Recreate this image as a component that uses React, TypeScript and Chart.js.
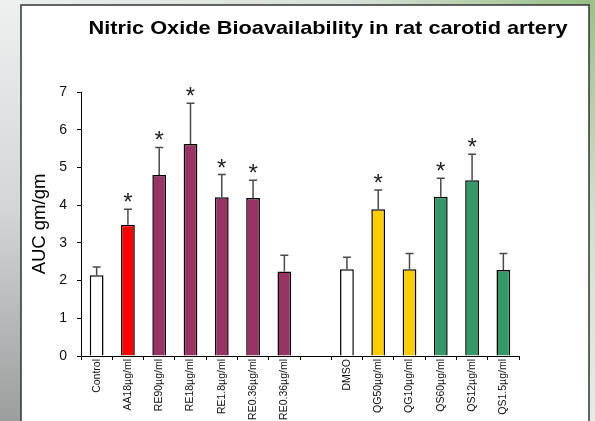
import React, { useEffect, useRef } from "react";
import { Chart, registerables } from "chart.js";

Chart.register(...registerables);

const FONT = "'Liberation Sans', Arial, Helvetica, sans-serif";

const titleText = "Nitric Oxide Bioavailability in rat carotid artery";
const yAxisTitle = "AUC gm/gm";

const categories = [
  "Control",
  "AA18µg/ml",
  "RE90µg/ml",
  "RE18µg/ml",
  "RE1.8µg/ml",
  "RE0.36µg/ml",
  "RE0.36µg/ml",
  "",
  "DMSO",
  "QG50µg/ml",
  "QG10µg/ml",
  "QS60µg/ml",
  "QS12µg/ml",
  "QS1.5µg/ml",
];

const means = [2.14, 3.48, 4.8, 5.62, 4.21, 4.19, 2.24, null, 2.3, 3.89, 2.3, 4.22, 4.66, 2.28];
const errorTops = [2.36, 3.89, 5.53, 6.7, 4.81, 4.66, 2.67, null, 2.62, 4.4, 2.72, 4.71, 5.35, 2.72];
const significant = [false, true, true, true, true, true, false, false, false, true, false, true, true, false];

const barColors = [
  "#FFFFFF",
  "#FF0000",
  "#993366",
  "#993366",
  "#993366",
  "#993366",
  "#993366",
  "#FFFFFF",
  "#FFFFFF",
  "#FFCC00",
  "#FFCC00",
  "#339966",
  "#339966",
  "#339966",
];

const yMin = 0;
const yMax = 7;
const yStep = 1;

const backgroundPlugin = {
  id: "slideBackground",
  beforeDraw(chart: any) {
    const { ctx, width, height } = chart;
    ctx.save();
    const g = ctx.createLinearGradient(0, 0, width, height);
    g.addColorStop(0, "#e9ecec");
    g.addColorStop(0.45, "#c9cfcb");
    g.addColorStop(1, "#a9b0ad");
    ctx.fillStyle = g;
    ctx.fillRect(0, 0, width, height);
    const gTop = ctx.createLinearGradient(0, 0, width, 0);
    gTop.addColorStop(0, "rgba(235,238,238,1)");
    gTop.addColorStop(0.6, "rgba(215,225,215,1)");
    gTop.addColorStop(1, "rgba(150,190,130,1)");
    ctx.fillStyle = gTop;
    ctx.fillRect(0, 0, width, 6);
    const gRight = ctx.createLinearGradient(0, 0, 0, height);
    gRight.addColorStop(0, "#9cc088");
    gRight.addColorStop(0.5, "#cfe0cc");
    gRight.addColorStop(1, "#e6ece8");
    ctx.fillStyle = gRight;
    ctx.fillRect(589, 0, width - 589, height);
    const gLeft = ctx.createLinearGradient(0, 0, 0, height);
    gLeft.addColorStop(0, "#eef0f0");
    gLeft.addColorStop(0.5, "#d2d6d6");
    gLeft.addColorStop(1, "#9c9e9e");
    ctx.fillStyle = gLeft;
    ctx.fillRect(0, 0, 21, height);
    ctx.fillStyle = "#FFFFFF";
    ctx.fillRect(21, 5, 568, height);
    ctx.strokeStyle = "#333333";
    ctx.lineWidth = 1.5;
    ctx.beginPath();
    ctx.moveTo(21, height + 2);
    ctx.lineTo(21, 5);
    ctx.lineTo(589, 5);
    ctx.lineTo(589, height + 2);
    ctx.stroke();
    ctx.restore();
  },
};

const errorBarPlugin = {
  id: "errorBars",
  afterDatasetsDraw(chart: any) {
    const { ctx } = chart;
    const meta = chart.getDatasetMeta(0);
    const yScale = chart.scales.y;
    ctx.save();
    meta.data.forEach((bar: any, i: number) => {
      const m = means[i];
      const e = errorTops[i];
      if (m == null || e == null) return;
      const x = bar.x;
      const yTop = yScale.getPixelForValue(m);
      const yErr = yScale.getPixelForValue(e);
      ctx.strokeStyle = "#4a4a4a";
      ctx.lineWidth = 1.5;
      ctx.beginPath();
      ctx.moveTo(x, yTop);
      ctx.lineTo(x, yErr);
      ctx.moveTo(x - 4, yErr);
      ctx.lineTo(x + 4, yErr);
      ctx.stroke();
      if (significant[i]) {
        ctx.fillStyle = "#222222";
        ctx.font = `24px ${FONT}`;
        ctx.textAlign = "center";
        ctx.textBaseline = "alphabetic";
        ctx.fillText("*", x, yErr + 1);
      }
    });
    ctx.restore();
  },
};

const titlePlugin = {
  id: "chartHeading",
  afterDraw(chart: any) {
    const { ctx } = chart;
    ctx.save();
    ctx.fillStyle = "#000000";
    ctx.font = `bold 19px ${FONT}`;
    ctx.textAlign = "center";
    ctx.textBaseline = "alphabetic";
    const w = ctx.measureText(titleText).width;
    const sx = w > 0 ? 479 / w : 1;
    ctx.translate(328, 33.5);
    ctx.scale(sx, 1);
    ctx.fillText(titleText, 0, 0);
    ctx.restore();
  },
};

export default function App() {
  const canvasRef = useRef<HTMLCanvasElement | null>(null);

  useEffect(() => {
    const canvas = canvasRef.current;
    if (!canvas) return;
    const chart = new Chart(canvas, {
      type: "bar",
      data: {
        labels: categories,
        datasets: [
          {
            data: means as any,
            backgroundColor: barColors,
            borderColor: "#000000",
            borderWidth: 1.5,
            borderSkipped: "bottom",
            barPercentage: 0.44,
            categoryPercentage: 1,
          },
        ],
      },
      options: {
        responsive: false,
        animation: false,
        devicePixelRatio: 1,
        layout: { padding: { left: 0, top: 92, right: 76, bottom: 0 } },
        plugins: {
          legend: { display: false },
          title: { display: false },
          tooltip: { enabled: false },
        },
        scales: {
          x: {
            offset: true,
            grid: {
              display: true,
              offset: true,
              drawOnChartArea: false,
              drawTicks: true,
              tickLength: 4,
              color: "#000000",
              lineWidth: 1,
            },
            border: { display: true, color: "#000000", width: 1 },
            ticks: {
              autoSkip: false,
              minRotation: 90,
              maxRotation: 90,
              padding: -1,
              color: "#111111",
              font: { family: FONT, size: 10.5 },
            },
            afterFit(scale: any) {
              scale.height = 65;
            },
          },
          y: {
            min: yMin,
            max: yMax,
            grid: {
              display: true,
              drawOnChartArea: false,
              drawTicks: true,
              tickLength: 4,
              color: "#000000",
            },
            border: { display: true, color: "#000000", width: 1 },
            ticks: {
              stepSize: yStep,
              padding: 10,
              color: "#111111",
              font: { family: FONT, size: 14 },
            },
            title: {
              display: true,
              text: yAxisTitle,
              color: "#000000",
              font: { family: FONT, size: 18.5 },
              padding: { top: 29, bottom: 0 },
            },
            afterFit(scale: any) {
              scale.width = 81;
            },
          },
        },
      },
      plugins: [backgroundPlugin, errorBarPlugin, titlePlugin],
    });
    return () => chart.destroy();
  }, []);

  return (
    <div style={{ position: "fixed", left: 0, top: 0, width: 595, height: 421 }}>
      <canvas ref={canvasRef} width={595} height={421} style={{ display: "block", width: 595, height: 421 }} />
    </div>
  );
}
